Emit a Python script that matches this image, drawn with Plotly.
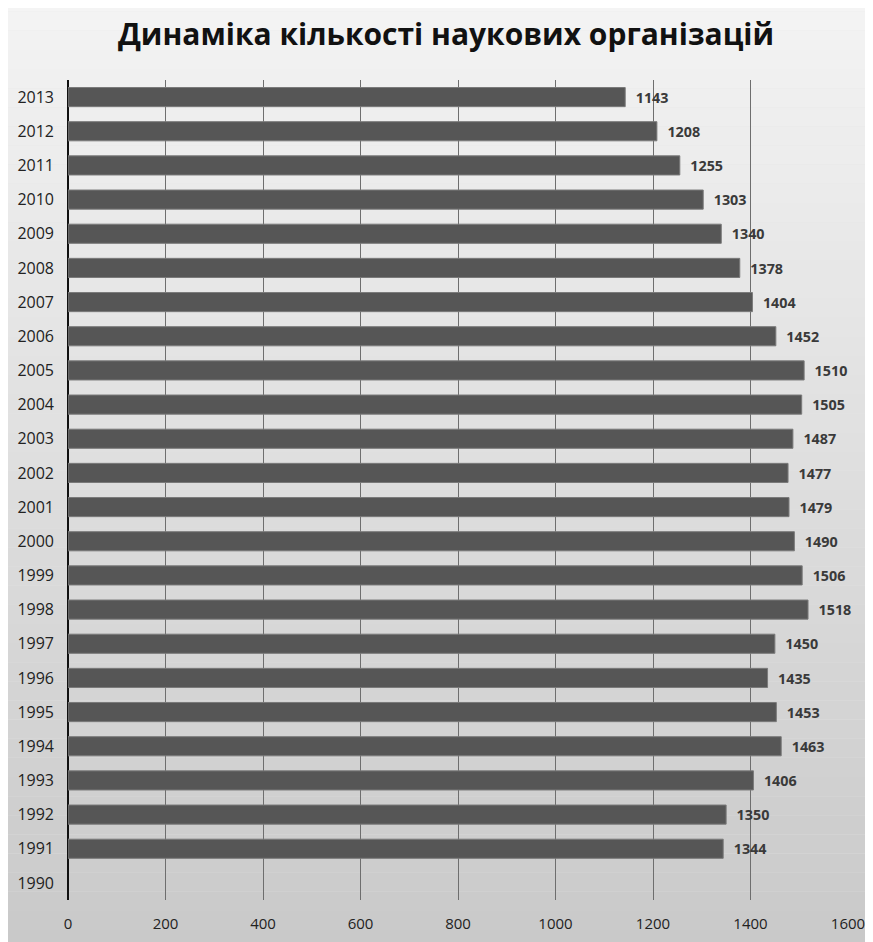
import plotly.graph_objects as go

years = [str(y) for y in range(1990, 2014)]
values = [None, 1344, 1350, 1406, 1463, 1453, 1435, 1450, 1518, 1506, 1490,
          1479, 1477, 1487, 1505, 1510, 1452, 1404, 1378, 1340, 1303, 1255, 1208, 1143]
labels = ["" if v is None else "\u00a0\u00a0" + str(v) for v in values]
x_ticks = [0, 200, 400, 600, 800, 1000, 1200, 1400, 1600]

fig = go.Figure()
fig.add_trace(go.Bar(
    y=years, x=values, orientation="h",
    marker=dict(color="#565656", line=dict(color="#7a7a7a", width=1)),
    width=0.56,
    text=labels, textposition="outside", cliponaxis=False,
    textfont=dict(family="Open Sans", size=15, color="#3a3a3a", weight="bold"),
    hoverinfo="skip",
))

# vertical gradient background bands
shapes = []
n = 60
top = (247, 247, 247)
bot = (196, 196, 196)
for i in range(n):
    t = i / (n - 1)
    c = tuple(int(round(top[k] + (bot[k] - top[k]) * t)) for k in range(3))
    shapes.append(dict(type="rect", xref="paper", yref="paper",
                       x0=-0.2, x1=1.2, y0=1.2 - (i + 1) * 1.4 / n, y1=1.2 - i * 1.4 / n,
                       fillcolor="rgb(%d,%d,%d)" % c, line=dict(width=0), layer="below"))

fig.update_layout(
    width=873, height=942,
    margin=dict(l=60, r=33, t=72, b=50, autoexpand=False),
    paper_bgcolor="#e4e4e4",
    plot_bgcolor="rgba(0,0,0,0)",
    shapes=shapes,
    showlegend=False,
    title=dict(text="<b>Динаміка кількості наукових організацій</b>",
               x=(446 - 8) / 873, xanchor="center", y=0.972, yanchor="middle",
               font=dict(family="Open Sans", size=30, color="#111111")),
    xaxis=dict(range=[0, 1600], tickvals=x_ticks, showgrid=True, gridcolor="#6e6e6e",
               gridwidth=1, zeroline=True, zerolinecolor="#111111", zerolinewidth=2,
               showline=False, tickfont=dict(family="Open Sans", size=15, color="#222222"),
               ticks="", ticklabelstandoff=13, automargin=False),
    yaxis=dict(type="category", categoryorder="array", categoryarray=years,
               range=[-0.5, 23.5], showgrid=False, showline=False,
               tickfont=dict(family="Open Sans", size=16, color="#222222"),
               ticks="", ticklabelstandoff=13, automargin=False),
)

fig.write_html("out.html")
